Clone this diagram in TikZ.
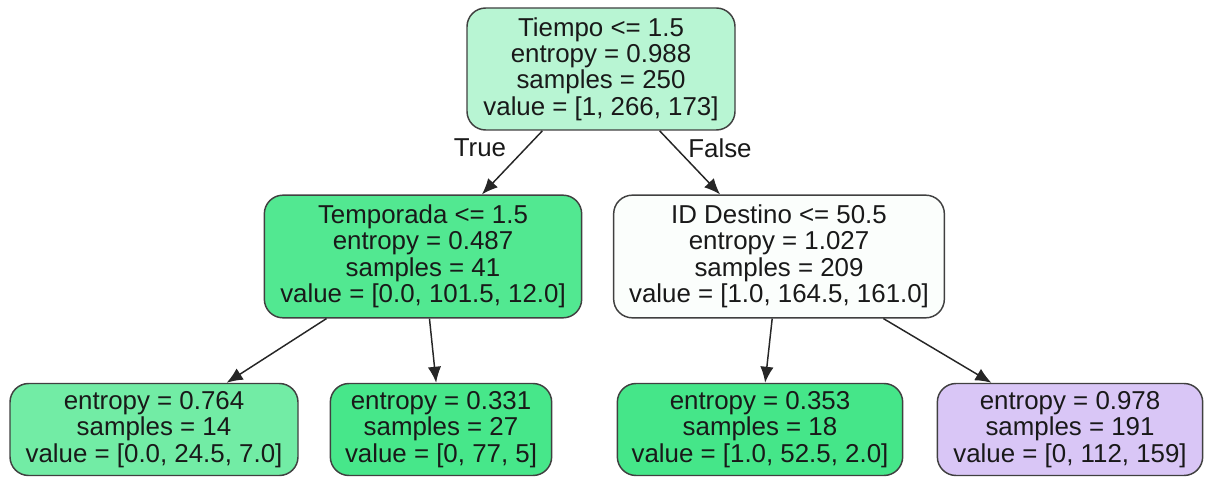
\documentclass[tikz,border=0pt]{standalone}
\usepackage{fontspec}
\setmainfont{Liberation Sans}
\usetikzlibrary{arrows.meta}
\definecolor{cRoot}{HTML}{B8F5D3}
\definecolor{cTemp}{HTML}{52E891}
\definecolor{cDest}{HTML}{FBFEFC}
\definecolor{cLeafA}{HTML}{72ECA5}
\definecolor{cLeafB}{HTML}{47E78A}
\definecolor{cLeafC}{HTML}{45E689}
\definecolor{cLeafD}{HTML}{D9C6F6}
\tikzset{
  tnode/.style={draw=black!75, line width=1.1pt, rounded corners=14pt, align=center,
    inner sep=0pt, text=black!90, font=\fontsize{19.4}{19.8}\selectfont},
  tedge/.style={-{Latex[length=12pt,width=10pt]}, line width=1.1pt, black!85},
  tlabel/.style={font=\fontsize{19.4}{19.8}\selectfont, text=black!90}
}
\begin{document}
\begin{tikzpicture}[x=0.75pt, y=-0.75pt]
\useasboundingbox (0,0) rectangle (1205,477);
% upper levels
\node[tnode, fill=cRoot, minimum width=201pt, minimum height=91.5pt] (root) at (601,69)
  {Tiempo <= 1.5\\entropy = 0.988\\samples = 250\\value = [1, 266, 173]};
\node[tnode, fill=cTemp, minimum width=238pt, minimum height=92pt] (temp) at (423,256.5)
  {Temporada <= 1.5\\entropy = 0.487\\samples = 41\\value = [0.0, 101.5, 12.0]};
\node[tnode, fill=cDest, minimum width=248pt, minimum height=92pt] (dest) at (779,256.5)
  {ID Destino <= 50.5\\entropy = 1.027\\samples = 209\\value = [1.0, 164.5, 161.0]};
% leaves
\node[tnode, fill=cLeafA, minimum width=216pt, minimum height=69pt] (leafa) at (154,429.5)
  {entropy = 0.764\\samples = 14\\value = [0.0, 24.5, 7.0]};
\node[tnode, fill=cLeafB, minimum width=166pt, minimum height=69pt] (leafb) at (441,429.5)
  {entropy = 0.331\\samples = 27\\value = [0, 77, 5]};
\node[tnode, fill=cLeafC, minimum width=214pt, minimum height=69pt] (leafc) at (760,429.5)
  {entropy = 0.353\\samples = 18\\value = [1.0, 52.5, 2.0]};
\node[tnode, fill=cLeafD, minimum width=199pt, minimum height=69pt] (leafd) at (1070,429.5)
  {entropy = 0.978\\samples = 191\\value = [0, 112, 159]};
% edges
\draw[tedge] (root) -- (temp);
\draw[tedge] (root) -- (dest);
\draw[tedge] (temp) -- (leafa);
\draw[tedge] (temp) -- (leafb);
\draw[tedge] (dest) -- (leafc);
\draw[tedge] (dest) -- (leafd);
\node[tlabel] (ltrue) at (480,148) {True};
\node[tlabel] (lfalse) at (720,148) {False};
\end{tikzpicture}
\end{document}
